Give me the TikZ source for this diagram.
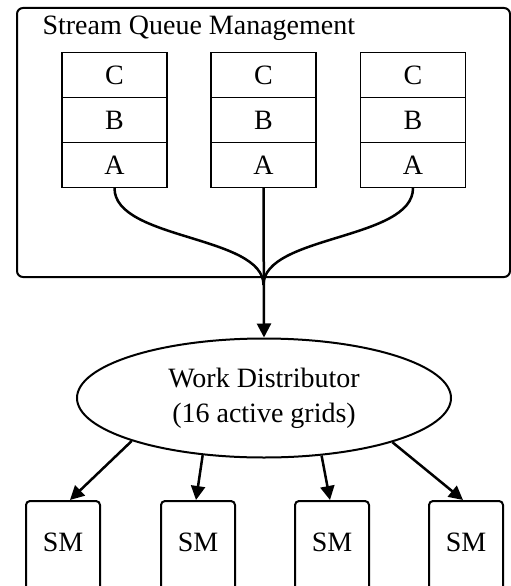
\documentclass[tikz,border=0pt]{standalone}
\usepackage{fontspec}
\setmainfont{Liberation Serif}
\usetikzlibrary{shapes.geometric,arrows.meta,calc}
\begin{document}
\begin{tikzpicture}[x=1pt,y=1pt,
  txt/.style={font=\fontsize{28}{35}\selectfont},
  cell/.style={draw,line width=1.3pt,minimum width=105pt,minimum height=45pt,inner sep=0pt,txt},
  outerbox/.style={draw,rounded corners=6pt,line width=2pt,minimum width=493pt,minimum height=269pt,inner sep=0pt},
  wdnode/.style={draw,ellipse,line width=2pt,minimum width=374pt,minimum height=119pt,inner sep=0pt,align=center,txt},
  smbox/.style={draw,rounded corners=4pt,line width=2pt,minimum width=74pt,anchor=north,inner xsep=0pt,inner ysep=32pt,text height=18pt,text depth=80pt,txt},
  conn/.style={line width=2.5pt},
  arr/.style={line width=2.5pt,-{Triangle[length=14pt,width=14pt]}}
]
\clip (0,0) rectangle (511,-586);
\node[outerbox] (sqm) at (263.5,-142.5) {};
\node[txt,anchor=base west] (title) at (39,-35) {Stream Queue Management};
% queues
\foreach \i/\x in {1/114.5,2/263.5,3/413}{
  \node[cell] (q\i c) at (\x,-75) {C};
  \node[cell] (q\i b) at (\x,-120) {B};
  \node[cell] (q\i a) at (\x,-165) {A};
}
\coordinate (merge) at (263.5,-285);
\node[wdnode] (wd) at (264,-398) {Work Distributor\\(16 active grids)};
\draw[conn] (q1a.south) .. controls +(0,-52) and +(0,50) .. (merge);
\draw[conn] (q3a.south) .. controls +(0,-52) and +(0,50) .. (merge);
\draw[arr] (q2a.south) -- (wd.north);
% SMs
\node[smbox] (sm1) at (63,-500) {SM};
\node[smbox] (sm2) at (198,-500) {SM};
\node[smbox] (sm3) at (332,-500) {SM};
\node[smbox] (sm4) at (466,-500) {SM};
\draw[arr] (wd.198) -- ($(sm1.north)+(7,0)$);
\draw[arr] (wd.223.6) -- ($(sm2.north)+(-2,0)$);
\draw[arr] (wd.315.5) -- ($(sm3.north)+(-2,0)$);
\draw[arr] (wd.341.7) -- ($(sm4.north)+(-3,0)$);
\end{tikzpicture}
\end{document}
